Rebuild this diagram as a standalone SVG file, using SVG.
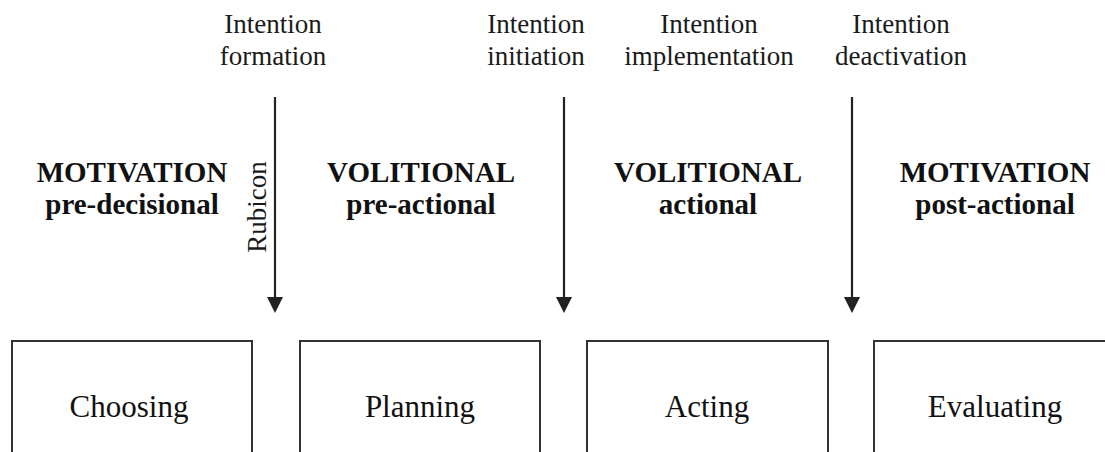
<svg xmlns="http://www.w3.org/2000/svg" width="1105" height="452" viewBox="0 0 1105 452">
<defs>
<style>
.lbl{font-family:"Liberation Serif","Times New Roman",serif;font-size:27px;fill:#1a1a1a;text-anchor:middle}
.phase{font-family:"Liberation Serif","Times New Roman",serif;font-size:29px;font-weight:bold;fill:#111;text-anchor:middle}
.box{fill:#fff;stroke:#333;stroke-width:2}
.btxt{font-family:"Liberation Serif","Times New Roman",serif;font-size:31px;fill:#111;text-anchor:middle}
.arr{stroke:#222;stroke-width:2.2;fill:none;marker-end:url(#ah)}
</style>
<marker id="ah" markerUnits="userSpaceOnUse" markerWidth="16" markerHeight="16" refX="0" refY="8" orient="auto">
<path d="M0,0 L16,8 L0,16 z" fill="#222"/>
</marker>
</defs>
<rect width="1105" height="452" fill="#fff"/>
<g id="labels">
<text class="lbl" x="273" y="33">Intention</text>
<text class="lbl" x="273" y="65">formation</text>
<text class="lbl" x="536" y="33">Intention</text>
<text class="lbl" x="536" y="65">initiation</text>
<text class="lbl" x="709" y="33">Intention</text>
<text class="lbl" x="709" y="65">implementation</text>
<text class="lbl" x="901" y="33">Intention</text>
<text class="lbl" x="901" y="65">deactivation</text>
<text class="lbl" transform="translate(266,207) rotate(-90)" x="0" y="0" style="font-size:27px">Rubicon</text>
</g>
<g id="phases">
<text class="phase" x="132" y="182">MOTIVATION</text>
<text class="phase" x="132" y="214">pre-decisional</text>
<text class="phase" x="421" y="182">VOLITIONAL</text>
<text class="phase" x="421" y="214">pre-actional</text>
<text class="phase" x="708" y="182">VOLITIONAL</text>
<text class="phase" x="708" y="214">actional</text>
<text class="phase" x="995" y="182">MOTIVATION</text>
<text class="phase" x="995" y="214">post-actional</text>
</g>
<g id="connectors">
<line class="arr" x1="275" y1="97" x2="275" y2="297"/>
<line class="arr" x1="564" y1="97" x2="564" y2="297"/>
<line class="arr" x1="852" y1="97" x2="852" y2="297"/>
</g>
<g id="choosing">
<rect class="box" x="12" y="341" width="240" height="140"/>
<text class="btxt" x="129" y="417">Choosing</text>
</g>
<g id="planning">
<rect class="box" x="300" y="341" width="240" height="140"/>
<text class="btxt" x="420" y="417">Planning</text>
</g>
<g id="acting">
<rect class="box" x="587" y="341" width="241" height="140"/>
<text class="btxt" x="707" y="417">Acting</text>
</g>
<g id="evaluating">
<rect class="box" x="874" y="341" width="260" height="140"/>
<text class="btxt" x="995" y="417">Evaluating</text>
</g>
</svg>
